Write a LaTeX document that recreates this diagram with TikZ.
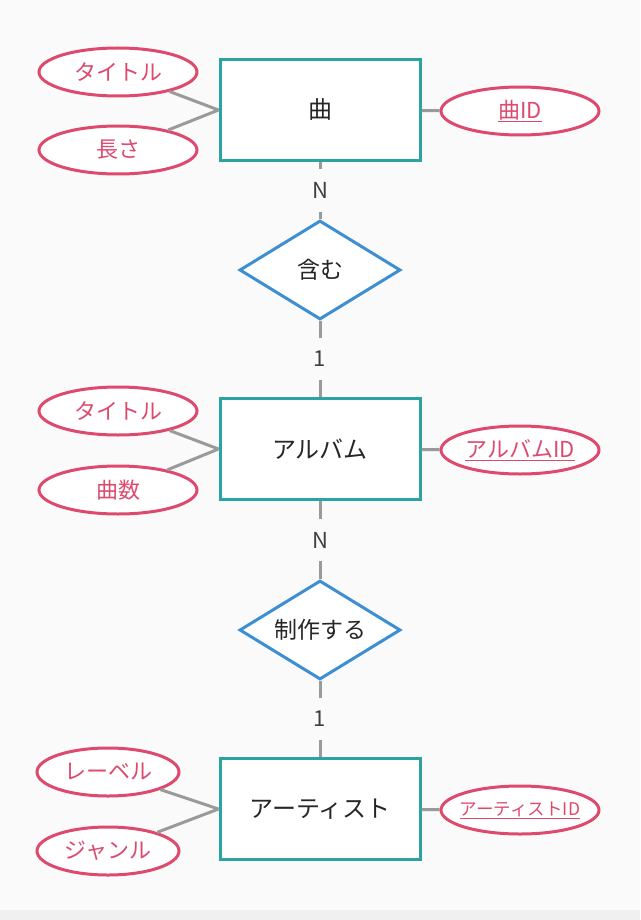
\documentclass[tikz,border=0pt]{standalone}
\usepackage{fontspec}
\setmainfont{Noto Sans CJK JP}
\usetikzlibrary{shapes.geometric}
\definecolor{entc}{HTML}{2BA3A0}
\definecolor{relc}{HTML}{3D8FD1}
\definecolor{attc}{HTML}{DD4A6E}
\definecolor{linec}{HTML}{9A9A9A}
\definecolor{bgc}{HTML}{FAFAFA}
\begin{document}
\begin{tikzpicture}[x=1pt,y=-1pt,
    ent/.style={draw=entc, line width=3pt, fill=white, minimum width=200pt, minimum height=101pt, font=\fontsize{24}{28}\selectfont, text=black!85},
    rel/.style={draw=relc, line width=3pt, fill=white, diamond, aspect=1.6, minimum width=161pt, minimum height=99pt, inner sep=0pt, font=\fontsize{23}{27}\selectfont, text=black!85},
    att/.style={draw=attc, line width=3pt, fill=white, ellipse, minimum width=158pt, minimum height=48pt, inner sep=0pt, text=attc, font=\fontsize{22}{26}\selectfont},
    con/.style={draw=linec, line width=3pt},
    card/.style={fill=bgc, text=black!75, font=\fontsize{22}{26}\selectfont, inner sep=3pt, minimum height=42pt}]
  \fill[bgc] (0,0) rectangle (640,920);
  \fill[black!6] (0,910) rectangle (640,920);
  \useasboundingbox (0,0) rectangle (640,920);

  % entities
  \node[ent] (song) at (320,110) {曲};
  \node[ent] (album) at (320,449) {アルバム};
  \node[ent] (artist) at (320,809) {アーティスト};

  % relations
  \node[rel] (contain) at (320,270) {含む};
  \node[rel] (make) at (320,630) {制作する};

  % attributes
  \node[att] (songtitle) at (118,72) {タイトル};
  \node[att] (songlen) at (118,150) {長さ};
  \node[att] (songid) at (520,111) {\underline{曲ID}};
  \node[att] (albtitle) at (118,411) {タイトル};
  \node[att] (albnum) at (118,490) {曲数};
  \node[att] (albid) at (520,450) {\underline{アルバムID}};
  \node[att, minimum width=142pt] (artlabel) at (108,772) {レーベル};
  \node[att, minimum width=142pt] (artgenre) at (108,851) {ジャンル};
  \node[att, inner xsep=-6pt, font=\fontsize{17.5}{21}\selectfont] (artid) at (520,810) {\underline{アーティストID}};

  % attribute links
  \foreach \a/\b in {songtitle/song, songlen/song, albtitle/album, albnum/album, artlabel/artist, artgenre/artist}
    \draw[con] (\a) -- (\b.west);
  \draw[con] (song) -- (songid);
  \draw[con] (album) -- (albid);
  \draw[con] (artist) -- (artid);

  % cardinalities
  \draw[con] (song.south) -- (contain.north) node[card, midway] {N};
  \draw[con] (contain.south) -- (album.north) node[card, midway] {1};
  \draw[con] (album.south) -- (make.north) node[card, midway] {N};
  \draw[con] (make.south) -- (artist.north) node[card, midway] {1};
\end{tikzpicture}
\end{document}
